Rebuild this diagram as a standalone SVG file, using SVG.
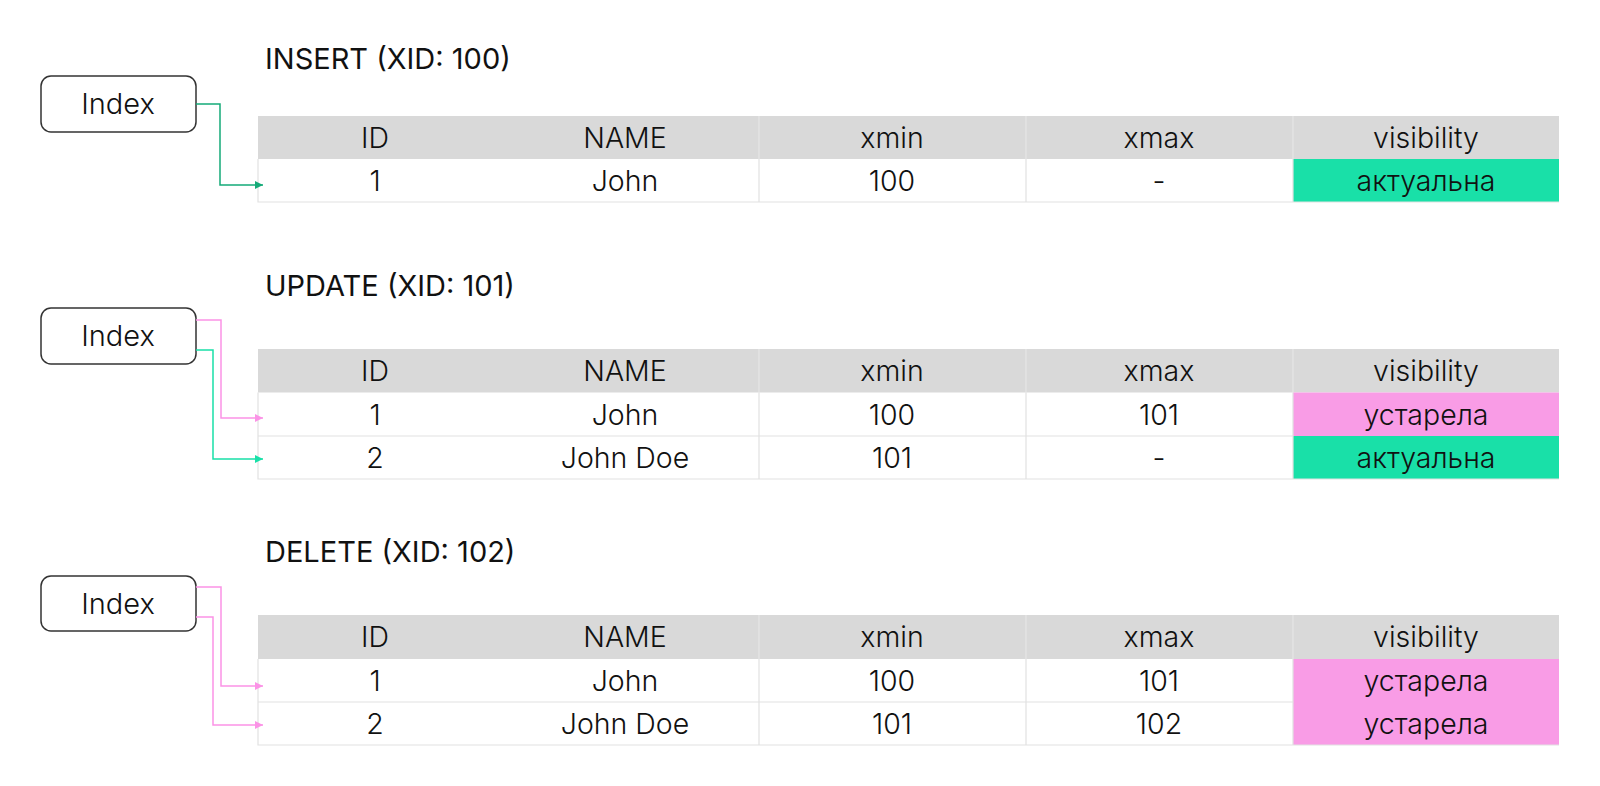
<svg xmlns="http://www.w3.org/2000/svg" width="1600" height="786" viewBox="0 0 1600 786">
<style>
text{font-family:Inter,"Liberation Sans",sans-serif;fill:#111;font-weight:300;}
.title{font-size:29px;font-weight:400;}
.cell{font-size:28.5px;text-anchor:middle;}
.idx{font-size:29px;text-anchor:middle;}
.box{fill:#fff;stroke:#333;stroke-width:1.5;}
.hdr{fill:#d9d9d9;}
.grid{stroke:#e2e2e2;stroke-width:1.2;fill:none;}
.hgrid{stroke:#e8e8e8;stroke-width:1;}
.ok{fill:#19e0a8;}
.old{fill:#f99ce6;}
.c-dg{stroke:#14aa78;stroke-width:1.5;fill:none;}
.c-g{stroke:#19e0a8;stroke-width:1.5;fill:none;}
.c-p{stroke:#fb93e6;stroke-width:1.5;fill:none;}
</style>
<defs>
<marker id="aDG" markerUnits="userSpaceOnUse" markerWidth="8" markerHeight="8" refX="8" refY="4" orient="auto"><path d="M0,0L8,4L0,8z" fill="#14aa78"/></marker>
<marker id="aG" markerUnits="userSpaceOnUse" markerWidth="8" markerHeight="8" refX="8" refY="4" orient="auto"><path d="M0,0L8,4L0,8z" fill="#19e0a8"/></marker>
<marker id="aP" markerUnits="userSpaceOnUse" markerWidth="8" markerHeight="8" refX="8" refY="4" orient="auto"><path d="M0,0L8,4L0,8z" fill="#fb93e6"/></marker>
</defs>
<rect width="1600" height="786" fill="#fff"/>

<!-- Section 1: INSERT -->
<g id="title-insert"><text class="title" x="265" y="69">INSERT (XID: 100)</text></g>
<g id="index-1"><rect class="box" x="41" y="76" width="155" height="56" rx="10"/><text class="idx" x="118" y="114">Index</text></g>
<g id="table-insert">
<rect class="hdr" x="258" y="116" width="1301" height="43"/>
<rect class="ok" x="1293" y="159" width="266" height="43"/>
<path class="grid" d="M258,159V202H1559M759,159V202M1026,159V202M1293,159V202"/>
<path class="hgrid" d="M759,116V159M1026,116V159M1293,116V159"/>
<text class="cell" x="375" y="148">ID</text><text class="cell" x="625" y="148">NAME</text><text class="cell" x="892" y="148">xmin</text><text class="cell" x="1159" y="148">xmax</text><text class="cell" x="1426" y="148">visibility</text>
<text class="cell" x="375" y="191">1</text><text class="cell" x="625" y="191">John</text><text class="cell" x="892" y="191">100</text><text class="cell" x="1159" y="191">-</text><text class="cell" x="1426" y="191">актуальна</text>
</g>

<!-- Section 2: UPDATE -->
<g id="title-update"><text class="title" x="265" y="296">UPDATE (XID: 101)</text></g>
<g id="index-2"><rect class="box" x="41" y="308" width="155" height="56" rx="10"/><text class="idx" x="118" y="346">Index</text></g>
<g id="table-update">
<rect class="hdr" x="258" y="349" width="1301" height="43.5"/>
<rect class="old" x="1293" y="392.5" width="266" height="43.5"/>
<rect class="ok" x="1293" y="436" width="266" height="43"/>
<path class="grid" d="M258,392.5V479H1559M258,436H1293M759,392.5V479M1026,392.5V479M1293,392.5V479"/>
<path class="hgrid" d="M759,349V392.5M1026,349V392.5M1293,349V392.5"/>
<text class="cell" x="375" y="381">ID</text><text class="cell" x="625" y="381">NAME</text><text class="cell" x="892" y="381">xmin</text><text class="cell" x="1159" y="381">xmax</text><text class="cell" x="1426" y="381">visibility</text>
<text class="cell" x="375" y="425">1</text><text class="cell" x="625" y="425">John</text><text class="cell" x="892" y="425">100</text><text class="cell" x="1159" y="425">101</text><text class="cell" x="1426" y="425">устарела</text>
<text class="cell" x="375" y="468">2</text><text class="cell" x="625" y="468">John Doe</text><text class="cell" x="892" y="468">101</text><text class="cell" x="1159" y="468">-</text><text class="cell" x="1426" y="468">актуальна</text>
</g>

<!-- Section 3: DELETE -->
<g id="title-delete"><text class="title" x="265" y="562">DELETE (XID: 102)</text></g>
<g id="index-3"><rect class="box" x="41" y="576" width="155" height="55" rx="10"/><text class="idx" x="118" y="614">Index</text></g>
<g id="table-delete">
<rect class="hdr" x="258" y="615" width="1301" height="44"/>
<rect class="old" x="1293" y="659" width="266" height="43"/>
<rect class="old" x="1293" y="702" width="266" height="43"/>
<path class="grid" d="M258,659V745H1559M258,702H1293M759,659V745M1026,659V745M1293,659V745"/>
<path class="hgrid" d="M759,615V659M1026,615V659M1293,615V659"/>
<text class="cell" x="375" y="647">ID</text><text class="cell" x="625" y="647">NAME</text><text class="cell" x="892" y="647">xmin</text><text class="cell" x="1159" y="647">xmax</text><text class="cell" x="1426" y="647">visibility</text>
<text class="cell" x="375" y="691">1</text><text class="cell" x="625" y="691">John</text><text class="cell" x="892" y="691">100</text><text class="cell" x="1159" y="691">101</text><text class="cell" x="1426" y="691">устарела</text>
<text class="cell" x="375" y="734">2</text><text class="cell" x="625" y="734">John Doe</text><text class="cell" x="892" y="734">101</text><text class="cell" x="1159" y="734">102</text><text class="cell" x="1426" y="734">устарела</text>
</g>

<g id="connectors">
<path class="c-dg" d="M196,104H220V185H263" marker-end="url(#aDG)"/>
<path class="c-p" d="M196,320H221V418H263" marker-end="url(#aP)"/>
<path class="c-g" d="M196,350H213V459H263" marker-end="url(#aG)"/>
<path class="c-p" d="M196,587H221V686H263" marker-end="url(#aP)"/>
<path class="c-p" d="M196,617H213V725H263" marker-end="url(#aP)"/>
</g>
</svg>
